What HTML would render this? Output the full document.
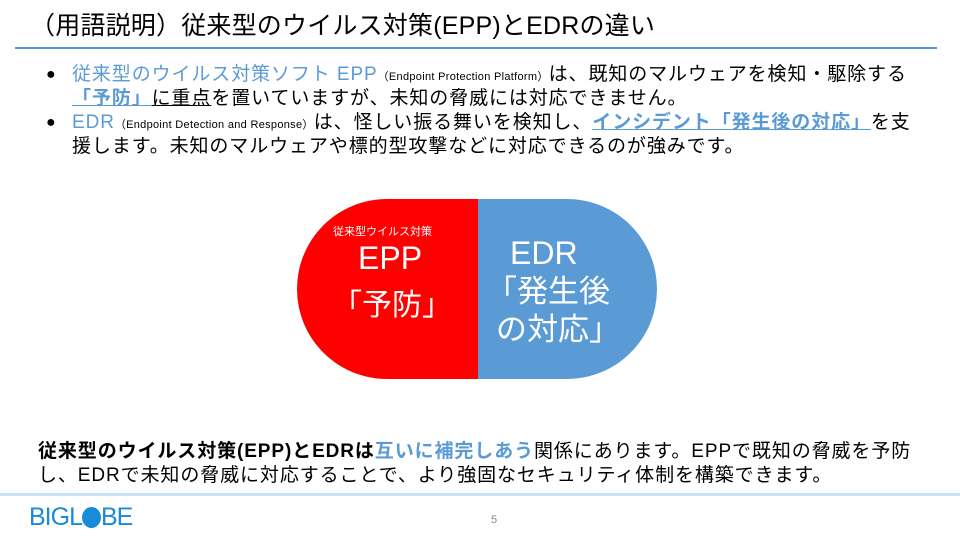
<!DOCTYPE html>
<html><head><meta charset="utf-8"><style>
body{margin:0;width:960px;height:540px;background:#fff;position:relative;overflow:hidden;font-family:"Liberation Sans","Noto Sans CJK JP",sans-serif;color:#000}
.a{position:absolute;white-space:nowrap}
.b{color:#5b9bd5}
.s{font-size:11px;letter-spacing:0.3px}
.u{text-decoration:underline;text-decoration-color:#5b9bd5}
.t div{height:24px;line-height:24px}
</style></head><body>
<div class="a" style="left:30px;top:6px;font-size:25px;letter-spacing:0.2px">（用語説明）従来型のウイルス対策(EPP)とEDRの違い</div>
<div class="a" style="left:15px;top:47px;width:922px;height:2px;background:#5b8fd9"></div>
<div class="a t" style="left:46px;top:63px;font-size:16px">
<div>●</div><div>&nbsp;</div><div>●</div></div>
<div class="a t" style="left:72px;top:63px;font-size:19px;letter-spacing:0.9px">
<div><span class="b">従来型のウイルス対策ソフト EPP</span><span class="s">（Endpoint Protection Platform）</span>は、既知のマルウェアを検知・駆除する</div>
<div><b class="b u">「予防」</b><span style="text-decoration:underline">に重点</span>を置いていますが、未知の脅威には対応できません。</div>
<div><span class="b">EDR</span><span class="s">（Endpoint Detection and Response）</span>は、怪しい振る舞いを検知し、<b class="b u">インシデント「発生後の対応」</b>を支</div>
<div>援します。未知のマルウェアや標的型攻撃などに対応できるのが強みです。</div></div>
<div class="a" style="left:297px;top:199px;width:181px;height:180px;background:#ff0000;border-radius:90px 0 0 90px"></div>
<div class="a" style="left:478px;top:199px;width:179px;height:180px;background:#5b9bd5;border-radius:0 90px 90px 0"></div>
<div class="a" style="left:333px;top:223px;font-size:11px;color:#fff">従来型ウイルス対策</div>
<div class="a" style="left:358px;top:240px;font-size:32px;color:#fff">EPP</div>
<div class="a" style="left:332px;top:280px;font-size:30px;color:#fff">「予防」</div>
<div class="a" style="left:510px;top:234px;font-size:32px;color:#fff;line-height:38px">EDR</div>
<div class="a" style="left:486px;top:273px;font-size:31px;color:#fff;line-height:38px">「発生後</div>
<div class="a" style="left:496px;top:311px;font-size:31px;color:#fff;line-height:38px">の対応」</div>
<div class="a t" style="left:38px;top:440px;font-size:19px;letter-spacing:0.9px">
<div><b>従来型のウイルス対策(EPP)とEDRは</b><b class="b">互いに補完しあう</b>関係にあります。EPPで既知の脅威を予防</div>
<div>し、EDRで未知の脅威に対応することで、より強固なセキュリティ体制を構築できます。</div></div>
<div class="a" style="left:0;top:493px;width:960px;height:3px;background:#c5e3f5"></div>
<div class="a" style="left:29px;top:503px;font-size:25px;color:#1a8bd6;letter-spacing:-1px">BIGL<span style="display:inline-block;width:19px;height:21px;background:#1a8bd6;border-radius:50%;vertical-align:-3px"></span>BE</div>
<div class="a" style="left:491px;top:514px;font-size:11px;color:#888">5</div>
</body></html>
